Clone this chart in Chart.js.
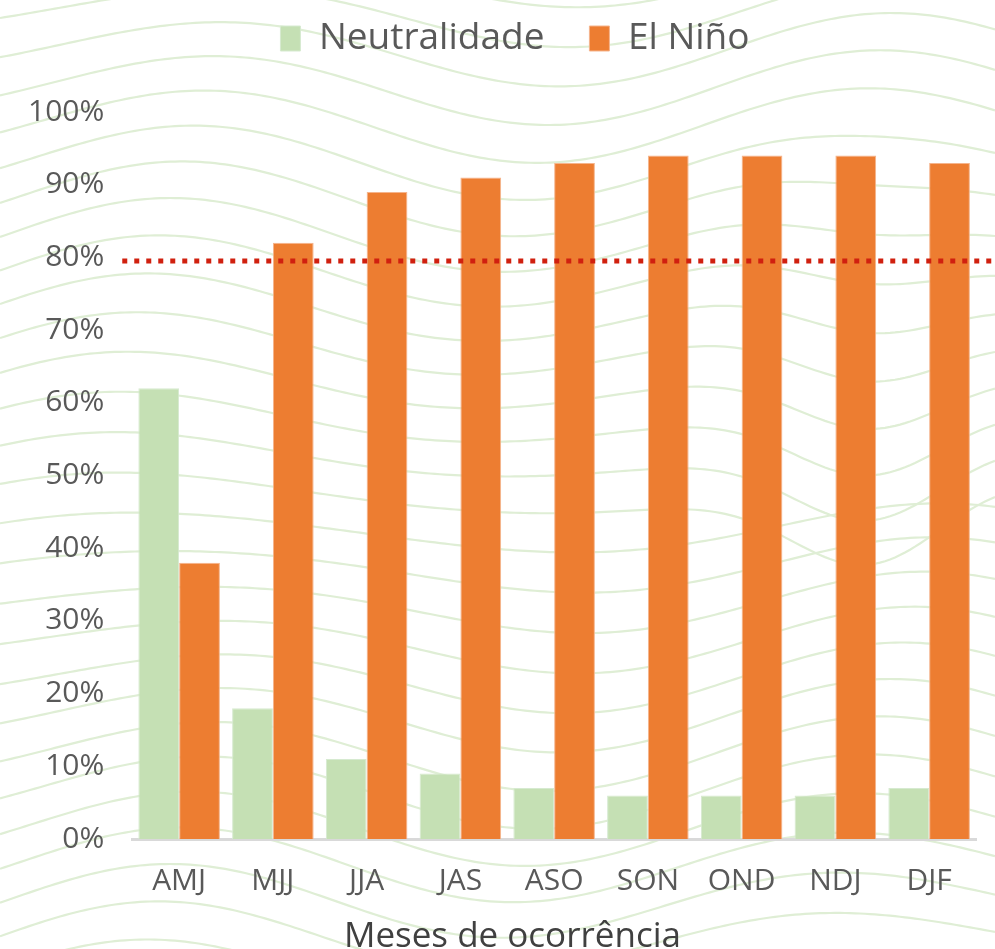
<!DOCTYPE html>
<html>
<head>
<meta charset="utf-8">
<script src="https://cdn.jsdelivr.net/npm/chart.js@4"></script>
<style>
  html, body { margin: 0; padding: 0; background: #fff; overflow: hidden; }
  #wrap { width: 995px; height: 949px; }
</style>
</head>
<body>
<div id="wrap"><canvas id="chart" width="995" height="949"></canvas></div>
<script>
// ===============================
// DATA
// ===============================
const months = ["AMJ", "MJJ", "JJA", "JAS", "ASO", "SON", "OND", "NDJ", "DJF"];
const neutralidade = [62, 18, 11, 9, 7, 6, 6, 6, 7];
const elNino = [38, 82, 89, 91, 93, 94, 94, 94, 93];
const threshold = 79.5;
const xTitle = "Meses de ocorrência";

const textColor = "#595959";
const fontFamily = "'Open Sans', 'Noto Sans', sans-serif";

// ===============================
// PLUGINS
// ===============================
// decorative wavy background
const waveBackground = {
    id: "waveBackground",
    beforeDraw(chart) {
        const { ctx, width, height } = chart;
        ctx.save();
        ctx.fillStyle = "#ffffff";
        ctx.fillRect(0, 0, width, height);
        ctx.strokeStyle = "#dfeed5";
        ctx.lineWidth = 2.2;
        for (let i = 0; i < 30; i++) {
            const y0 = -60 + i * 37;
            ctx.beginPath();
            for (let x = 0; x <= width; x += 5) {
                let y = y0 - 28 * Math.cos(2 * Math.PI * (x - 170) / 720)
                    + 10 * Math.sin(x / 90 + i * 0.35);
                if (i > 5 && i < 16) {
                    y += (i - 5) * 9 * Math.exp(-Math.pow((x - 870) / 110, 2));
                }
                if (x === 0) ctx.moveTo(x, y); else ctx.lineTo(x, y);
            }
            ctx.stroke();
        }
        ctx.restore();
    }
};

// extra space under the legend, legend nudged right
const legendTweak = {
    id: "legendTweak",
    beforeInit(chart) {
        const fit = chart.legend.fit;
        chart.legend.fit = function () {
            fit.bind(chart.legend)();
            this.height += 45;
        };
    },
    afterLayout(chart) {
        chart.legend.left += 27;
        chart.legend.right += 27;
    }
};

// dotted reference line + axis title
const overlay = {
    id: "overlay",
    afterDatasetsDraw(chart) {
        const { ctx, chartArea, scales } = chart;
        const y = scales.y.getPixelForValue(threshold);
        ctx.save();
        ctx.strokeStyle = "#d0200f";
        ctx.lineWidth = 5;
        ctx.setLineDash([5, 7]);
        ctx.beginPath();
        ctx.moveTo(chartArea.left - 10, y);
        ctx.lineTo(chart.width, y);
        ctx.stroke();
        ctx.restore();

        ctx.save();
        ctx.fillStyle = "#404040";
        ctx.font = "35px " + fontFamily;
        ctx.textAlign = "center";
        ctx.textBaseline = "middle";
        ctx.fillText(xTitle, chart.width * 0.515, chartArea.bottom + 98);
        ctx.restore();
    }
};

// ===============================
// CHART
// ===============================
new Chart(document.getElementById("chart"), {
    type: "bar",
    data: {
        labels: months,
        datasets: [
            {
                label: "Neutralidade",
                data: neutralidade,
                backgroundColor: "#c5e0b4",
                borderColor: "#d6ead0",
                borderWidth: 1,
                categoryPercentage: 0.87,
                barPercentage: 1.0
            },
            {
                label: "El Niño",
                data: elNino,
                backgroundColor: "#ed7d31",
                borderColor: "#f5b48c",
                borderWidth: 1,
                categoryPercentage: 0.87,
                barPercentage: 1.0
            }
        ]
    },
    options: {
        responsive: false,
        animation: false,
        layout: { padding: { top: -25, right: 19, left: 0, bottom: 26 } },
        plugins: {
            legend: {
                display: true,
                position: "top",
                labels: {
                    color: textColor,
                    font: { family: fontFamily, size: 37 },
                    boxWidth: 20,
                    boxHeight: 25,
                    padding: 45
                }
            },
            tooltip: { enabled: false }
        },
        scales: {
            x: {
                grid: { display: false, drawTicks: false },
                border: { display: true, color: "#d9d9d9", width: 3 },
                ticks: {
                    color: textColor,
                    font: { family: fontFamily, size: 30 },
                    padding: 24
                }
            },
            y: {
                min: 0,
                max: 100,
                grid: { display: false, drawTicks: false },
                border: { display: false },
                ticks: {
                    stepSize: 10,
                    color: textColor,
                    font: { family: fontFamily, size: 30 },
                    padding: 28,
                    callback: v => v + "%"
                }
            }
        }
    },
    plugins: [waveBackground, legendTweak, overlay]
});
</script>
</body>
</html>
